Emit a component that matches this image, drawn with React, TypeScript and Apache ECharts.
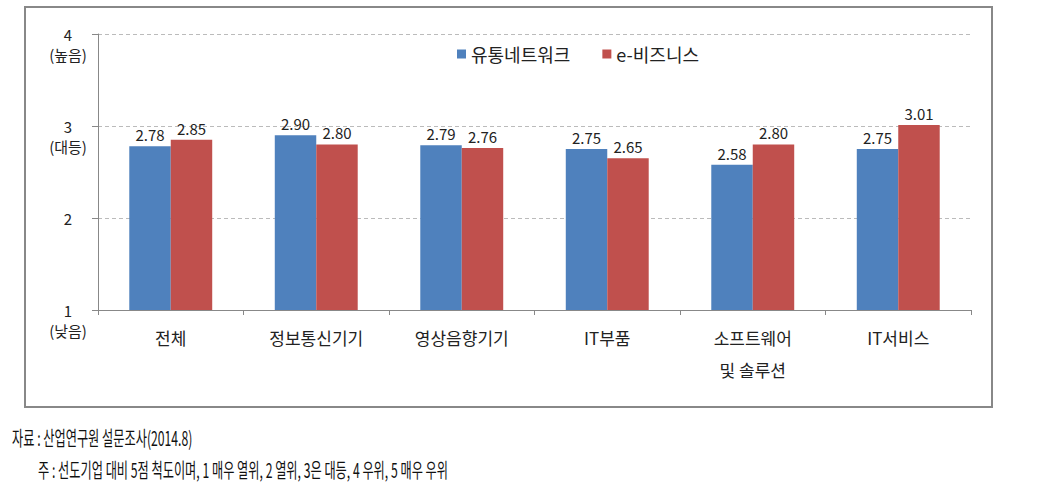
import React, { useEffect, useRef } from "react";
import * as echarts from "echarts";

const categories = ["전체", "정보통신기기", "영상음향기기", "IT부품", "소프트웨어\n및 솔루션", "IT서비스"];
const seriesNames = ["유통네트워크", "e-비즈니스"];
const distribution = [2.78, 2.9, 2.79, 2.75, 2.58, 2.75];
const ebusiness = [2.85, 2.8, 2.76, 2.65, 2.8, 3.01];
const yTickLabels: Record<number, string> = { 4: "\n4\n(높음)", 3: "\n3\n(대등)", 2: "2", 1: "\n1\n(낮음)" };
const sourceNote = "자료 : 산업연구원 설문조사(2014.8)";
const footNote = "주 : 선도기업 대비 5점 척도이며, 1 매우 열위, 2 열위, 3은 대등, 4 우위, 5 매우 우위";

const FONT = "'Noto Sans CJK KR', sans-serif";

export default function App() {
  const ref = useRef<HTMLDivElement>(null);
  useEffect(() => {
    const chart = echarts.init(ref.current!, null, { renderer: "svg" });
    chart.setOption({
      animation: false,
      textStyle: { fontFamily: FONT },
      legend: {
        top: 40,
        left: 452,
        itemWidth: 9,
        itemHeight: 9,
        itemGap: 32,
        icon: "rect",
        textStyle: { fontSize: 18, color: "#222", fontFamily: FONT },
        data: seriesNames,
      },
      grid: { left: 98, right: 84, top: 34, bottom: 188 },
      xAxis: {
        type: "category",
        data: categories,
        axisLine: { lineStyle: { color: "#888" } },
        axisTick: { show: true, length: 5, lineStyle: { color: "#888" } },
        axisLabel: { color: "#222", fontSize: 17, margin: 11, lineHeight: 32, fontFamily: FONT },
      },
      yAxis: {
        type: "value",
        min: 1,
        max: 4,
        interval: 1,
        axisLine: { show: true, lineStyle: { color: "#888" } },
        axisTick: { show: true, length: 6, lineStyle: { color: "#888" } },
        splitLine: { lineStyle: { color: "#bbb", type: [4, 3] } },
        axisLabel: {
          color: "#222",
          fontSize: 15,
          lineHeight: 20,
          margin: 30,
          align: "center",
          fontFamily: FONT,
          formatter: (v: number) => yTickLabels[v] ?? String(v),
        },
      },
      series: [
        {
          name: seriesNames[0],
          type: "bar",
          data: distribution,
          itemStyle: { color: "#4F81BD" },
          barGap: "0%",
          barCategoryGap: "43%",
          label: { show: true, position: "top", formatter: (p: any) => p.value.toFixed(2), color: "#222", fontSize: 15, distance: 4 },
        },
        {
          name: seriesNames[1],
          type: "bar",
          data: ebusiness,
          itemStyle: { color: "#C0504D" },
          barGap: "0%",
          barCategoryGap: "43%",
          label: { show: true, position: "top", formatter: (p: any) => p.value.toFixed(2), color: "#222", fontSize: 15, distance: 4 },
        },
      ],
      graphic: [
        {
          type: "rect",
          shape: { x: 25, y: 7, width: 967, height: 400 },
          style: { fill: "none", stroke: "#888", lineWidth: 2 },
          silent: true,
        },
        {
          type: "text",
          x: 12,
          y: 438,
          scaleX: 0.61,
          style: { text: sourceNote, font: `20px ${FONT}`, fill: "#111", verticalAlign: "middle" },
        },
        {
          type: "text",
          x: 38,
          y: 470,
          scaleX: 0.61,
          style: { text: footNote, font: `20px ${FONT}`, fill: "#111", verticalAlign: "middle" },
        },
      ],
    });
    return () => chart.dispose();
  }, []);
  return <div ref={ref} style={{ position: "fixed", left: 0, top: 0, width: 1055, height: 498, background: "#fff" }} />;
}
